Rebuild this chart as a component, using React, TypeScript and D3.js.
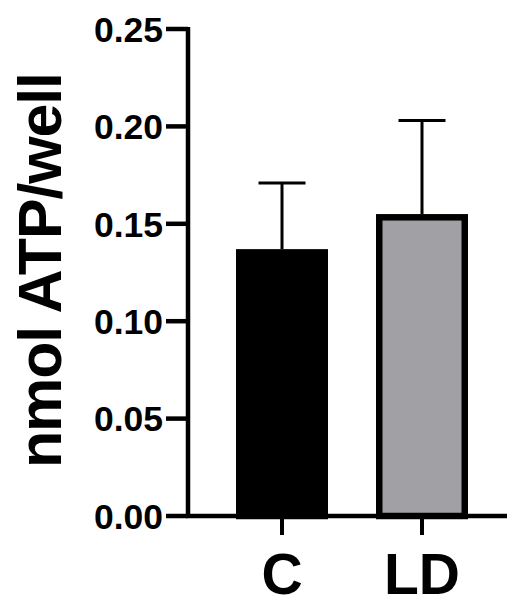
import React from "react";
import * as d3 from "d3";

const categories = ["C", "LD"];
const means = [0.137, 0.155];
const sdUpper = [0.171, 0.203];
const fills = ["#000000", "#a1a0a5"];
const yTicks = [0, 0.05, 0.1, 0.15, 0.2, 0.25];
const yTitle = "nmol ATP/well";

const W = 507;
const H = 598;

export default function App() {
  const y = d3.scaleLinear().domain([0, 0.25]).range([516, 29]);
  const x = d3.scalePoint<string>().domain(categories).range([282, 422]);
  const barW = 92;
  const border = 6.5;
  const axisX = 188;
  const font = "'Liberation Sans', Arial, Helvetica, sans-serif";

  return (
    <svg
      width={W}
      height={H}
      style={{ position: "absolute", left: 0, top: 0, background: "#fff" }}
      fontFamily={font}
    >
      <rect x={0} y={0} width={W} height={H} fill="#fff" />
      {/* error bars */}
      {categories.map((c, i) => {
        const cx = x(c)!;
        return (
          <g key={"e" + c} stroke="#000" strokeWidth={3}>
            <line x1={cx} x2={cx} y1={y(means[i])} y2={y(sdUpper[i])} />
            <line x1={cx - 23.5} x2={cx + 23.5} y1={y(sdUpper[i])} y2={y(sdUpper[i])} />
          </g>
        );
      })}
      {/* bars */}
      {categories.map((c, i) => {
        const cx = x(c)!;
        return (
          <rect
            key={"b" + c}
            x={cx - barW / 2 + border / 2}
            y={y(means[i]) + border / 2}
            width={barW - border}
            height={y(0) - y(means[i]) - border / 2}
            fill={fills[i]}
            stroke="#000"
            strokeWidth={border}
          />
        );
      })}
      {/* y axis */}
      <line x1={axisX} x2={axisX} y1={y(0.25) - 2} y2={y(0) + 2} stroke="#000" strokeWidth={4.5} />
      {yTicks.map((t) => (
        <g key={"t" + t}>
          <line x1={166} x2={axisX} y1={y(t)} y2={y(t)} stroke="#000" strokeWidth={4.5} />
          <text
            x={163}
            y={y(t)}
            dy="0.36em"
            textAnchor="end"
            fontSize={35.5}
            fontWeight="bold"
            fill="#000"
          >
            {d3.format(".2f")(t)}
          </text>
        </g>
      ))}
      {/* x axis */}
      <line x1={axisX - 2} x2={W} y1={y(0)} y2={y(0)} stroke="#000" strokeWidth={4.5} />
      {categories.map((c) => (
        <g key={"x" + c}>
          <line x1={x(c)!} x2={x(c)!} y1={y(0)} y2={535} stroke="#000" strokeWidth={4} />
          <text
            x={x(c)!}
            y={594}
            textAnchor="middle"
            fontSize={57}
            fontWeight="bold"
            fill="#000"
          >
            {c}
          </text>
        </g>
      ))}
      {/* y title */}
      <text
        transform={`translate(61, 270) rotate(-90)`}
        textAnchor="middle"
        fontSize={61}
        fontWeight="bold"
        fill="#000"
        textLength={396}
        lengthAdjust="spacing"
      >
        {yTitle}
      </text>
    </svg>
  );
}
